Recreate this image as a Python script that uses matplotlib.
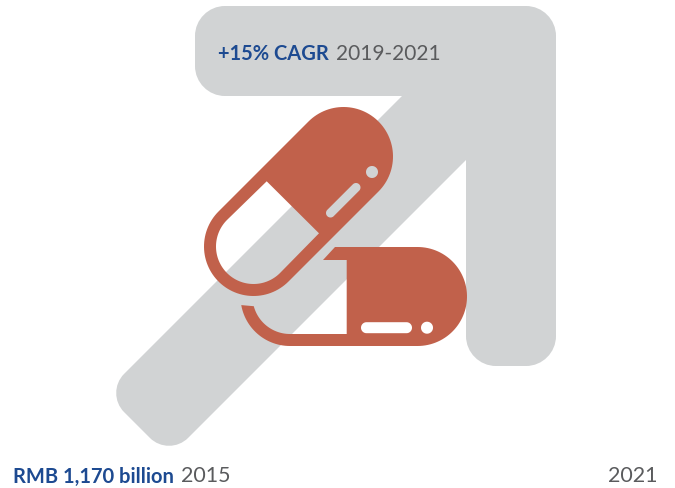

import numpy as np
import matplotlib
matplotlib.use("Agg")
import matplotlib.pyplot as plt
from matplotlib.path import Path
from matplotlib.patches import PathPatch

growth_label = "+15% CAGR"
growth_period = "2019-2021"
start_value = "RMB 1,170 billion"
start_year = "2015"
end_year = "2021"

BLUE = "#1D4A91"
GREY_TEXT = "#5A5B5D"
ARROW = "#D1D3D4"
PILL = "#C1614B"

plt.rcParams['font.family'] = ['Lato', 'DejaVu Sans']


def rounded_poly(pts):
    # pts are (x, y, corner radius), right-angle corners come out as circular arcs
    verts, codes = [], []
    n = len(pts)
    for i in range(n):
        p = np.array(pts[i][:2], float)
        r = pts[i][2]
        prev = np.array(pts[i - 1][:2], float)
        nxt = np.array(pts[(i + 1) % n][:2], float)
        if r == 0:
            verts.append(p)
            codes.append(Path.LINETO)
        else:
            a = p + (prev - p) / np.linalg.norm(prev - p) * r
            b = p + (nxt - p) / np.linalg.norm(nxt - p) * r
            verts += [a, a + (p - a) * 0.55, b + (p - b) * 0.55, b]
            codes += [Path.LINETO, Path.CURVE4, Path.CURVE4, Path.CURVE4]
    codes[0] = Path.MOVETO
    verts.append(verts[0])
    codes.append(Path.CLOSEPOLY)
    return Path(verts, codes)


def arc(cx, cy, r, a0, a1, n=60):
    t = np.radians(np.linspace(a0, a1, n))
    return np.column_stack([cx + r * np.cos(t), cy + r * np.sin(t)])


def ring(pts):
    pts = np.asarray(pts)
    return Path(np.vstack([pts, pts[:1]]),
                [Path.MOVETO] + [Path.LINETO] * (len(pts) - 1) + [Path.CLOSEPOLY])


def capsule(x0, y0, x1, y1, r):
    # stadium shape between two centres, always wound the same way
    ang = np.degrees(np.arctan2(y1 - y0, x1 - x0))
    return ring(np.vstack([arc(x1, y1, r, ang - 90, ang + 90),
                           arc(x0, y0, r, ang + 90, ang + 270)]))


def hole(p):
    # reversed winding so that the shape below shows through
    v = p.vertices[:-1][::-1]
    return ring(v)


fig = plt.figure(figsize=(6.75, 4.89), dpi=100)
ax = fig.add_axes([0, 0, 1, 1])
ax.set_xlim(0, 675)
ax.set_ylim(489, 0)
ax.axis('off')

# big arrow behind the pills
arrow = rounded_poly([(195, 7, 30), (556, 7, 30), (556, 367, 30), (466, 367, 30),
                      (466, 161, 0), (169, 458, 27), (105, 394, 27), (402, 97, 0),
                      (195, 97, 30)])
ax.add_patch(PathPatch(arrow, fc=ARROW, ec='none'))

# tilted pill, half solid and half hollow
outer = capsule(253.5, 247.5, 343.5, 157.5, 49.5)
hollow = ring(np.vstack([[[266.7, 182.3]],
                         arc(253.5, 247.5, 37.5, 225, 45, 80),
                         [[319, 234.3]]]))
dash1 = hole(capsule(330.5, 214, 356, 188.5, 4.5))
dot1 = hole(capsule(372, 173, 372.01, 172.99, 6))
tilted = Path.make_compound_path(outer, hollow, dash1, dot1)
ax.add_patch(PathPatch(tilted, fc=PILL, ec='none'))

# flat pill, open on its left side
flat_outline = np.vstack([
    [[335, 248]],
    arc(417.5, 297.5, 49.5, -90, 90),
    arc(290, 297.5, 49.5, 90, 170, 30),
    arc(290, 297.5, 37.5, 165, 90, 30),
    [[346.7, 335], [346.7, 261], [323, 261]],
])
dash2 = hole(capsule(366.5, 328.7, 406.5, 328.7, 5.5))
dot2 = hole(capsule(427, 328.7, 427.01, 328.7, 6))
flat = Path.make_compound_path(ring(flat_outline), dash2, dot2)
ax.add_patch(PathPatch(flat, fc=PILL, ec='none'))

fs = 14.5
ax.text(218, 60.5, growth_label, color=BLUE, fontsize=fs, fontweight='bold', va='baseline')
ax.text(336, 60.5, growth_period, color=GREY_TEXT, fontsize=15, va='baseline')
ax.text(13, 482.5, start_value, color=BLUE, fontsize=fs, fontweight='bold', va='baseline')
ax.text(181, 482.5, start_year, color=GREY_TEXT, fontsize=15.4, va='baseline')
ax.text(608, 482.5, end_year, color=GREY_TEXT, fontsize=15.4, va='baseline')

fig.savefig('out.png', dpi=100)
